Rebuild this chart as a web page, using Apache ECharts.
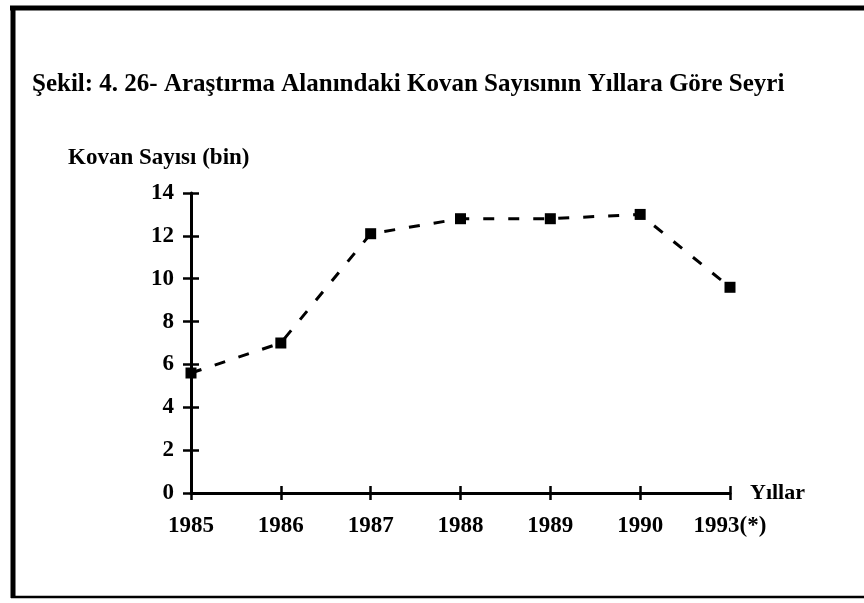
<!DOCTYPE html>
<html>
<head>
<meta charset="utf-8">
<script src="https://cdn.jsdelivr.net/npm/echarts@6/dist/echarts.min.js"></script>
<style>
  html, body { margin: 0; padding: 0; background: #fff; }
  #chart { width: 864px; height: 603px; }
</style>
</head>
<body>
<div id="chart"></div>
<script>
// Hive counts in the study area, by year (thousands)
const years = ['1985', '1986', '1987', '1988', '1989', '1990', '1993(*)'];
const hiveCounts = [5.6, 7.0, 12.1, 12.8, 12.8, 13.0, 9.6];
const yTicks = { min: 0, max: 14, interval: 2 };

const titleText = 'Şekil: 4. 26- Araştırma Alanındaki Kovan Sayısının Yıllara Göre Seyri';
const yName = 'Kovan Sayısı (bin)';
const xName = 'Yıllar';

const serif = '"Liberation Serif", "DejaVu Serif", serif';
const ink = '#000';

const gridBox = { left: 191, right: 134, top: 193, bottom: 110 };
const plotW = 864 - gridBox.left - gridBox.right;
const plotH = 603 - gridBox.top - gridBox.bottom;

const chart = echarts.init(document.getElementById('chart'), null, { renderer: 'canvas' });

const baseY = {
  type: 'value',
  min: yTicks.min,
  max: yTicks.max,
  interval: yTicks.interval,
  splitLine: { show: false }
};

chart.setOption({
  backgroundColor: '#fff',
  animation: false,
  title: [
    {
      text: titleText,
      left: 32, top: 72, padding: 0,
      textStyle: { fontFamily: serif, fontSize: 25, fontWeight: 'bold', color: ink }
    },
    {
      text: yName,
      left: 68, top: 147, padding: 0,
      textStyle: { fontFamily: serif, fontSize: 23, fontWeight: 'bold', color: ink }
    }
  ],
  grid: Object.assign({ containLabel: false }, gridBox),
  xAxis: [
    {
      type: 'category',
      data: years,
      boundaryGap: false,
      position: 'bottom',
      name: xName,
      nameLocation: 'end',
      nameGap: 20,
      nameTextStyle: { fontFamily: serif, fontSize: 22, fontWeight: 'bold', color: ink, verticalAlign: 'middle' },
      axisLine: { onZero: false, lineStyle: { color: ink, width: 3 } },
      axisTick: { show: true, inside: false, length: 7, lineStyle: { color: ink, width: 2.5 } },
      axisLabel: { margin: 22, fontFamily: serif, fontSize: 23, fontWeight: 'bold', color: ink, interval: 0 }
    },
    {
      // mirrored copy placed on the baseline: draws the upper half of each crossing tick
      type: 'category',
      data: years,
      boundaryGap: false,
      position: 'top',
      offset: -plotH,
      axisLine: { show: false, onZero: false },
      axisTick: { show: true, inside: false, length: 7, lineStyle: { color: ink, width: 2.5 } },
      axisLabel: { show: false }
    }
  ],
  yAxis: [
    Object.assign({}, baseY, {
      position: 'left',
      axisLine: { show: true, onZero: false, lineStyle: { color: ink, width: 3 } },
      axisTick: { show: true, inside: false, length: 8, lineStyle: { color: ink, width: 2.5 } },
      axisLabel: { margin: 17, fontFamily: serif, fontSize: 23, fontWeight: 'bold', color: ink }
    }),
    Object.assign({}, baseY, {
      // mirrored copy on the same line: right half of each crossing tick
      position: 'right',
      offset: -plotW,
      axisLine: { show: false, onZero: false },
      axisTick: { show: true, inside: false, length: 8, lineStyle: { color: ink, width: 2.5 } },
      axisLabel: { show: false }
    })
  ],
  series: [
    {
      type: 'line',
      data: hiveCounts,
      symbol: 'rect',
      symbolSize: 11,
      itemStyle: { color: ink },
      lineStyle: { color: ink, width: 3, type: [11, 14] }
    }
  ],
  graphic: [
    // page frame: heavy top and left rules, thinner bottom rule
    { type: 'line', shape: { x1: 10, y1: 8, x2: 864, y2: 8 }, style: { stroke: ink, lineWidth: 5 } },
    { type: 'line', shape: { x1: 13, y1: 6, x2: 13, y2: 598 }, style: { stroke: ink, lineWidth: 5 } },
    { type: 'line', shape: { x1: 11, y1: 597, x2: 864, y2: 597 }, style: { stroke: ink, lineWidth: 2.5 } }
  ]
});
</script>
</body>
</html>
